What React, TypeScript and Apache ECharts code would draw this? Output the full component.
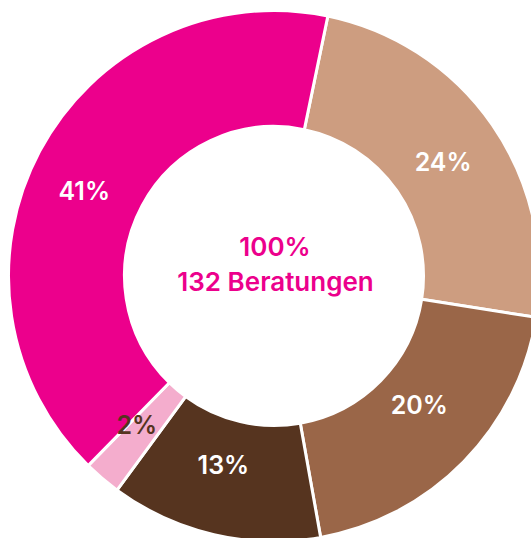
import React, { useEffect, useRef } from "react";
import * as echarts from "echarts";

const categories = ["A", "B", "C", "D", "E"];
const counts = [32, 26, 17, 3, 54];
const percentLabels = ["24%", "20%", "13%", "2%", "41%"];
const colors = ["#CD9D80", "#9A6648", "#56341F", "#F4ADCD", "#EC008C"];
const labelColors = ["#FFFFFF", "#FFFFFF", "#FFFFFF", "#56341F", "#FFFFFF"];
const labelOffsets = [[-4, 6], [-5, -18], [-3, -16], [-1, -11], [-4, 14]];
const centerLines = ["100%", "132 Beratungen"];

export default function App() {
  const ref = useRef<HTMLDivElement>(null);
  useEffect(() => {
    if (!ref.current) return;
    const chart = echarts.init(ref.current, null, { renderer: "svg" });
    const font = "Inter, Lato, 'Noto Sans', sans-serif";
    chart.setOption({
      animation: false,
      backgroundColor: "#ffffff",
      series: [
        {
          type: "pie",
          center: [274, 276],
          radius: [149.5, 265.5],
          startAngle: 78.3,
          clockwise: true,
          avoidLabelOverlap: false,
          itemStyle: { borderColor: "#ffffff", borderWidth: 3 },
          label: {
            show: true,
            position: "inside",
            fontFamily: font,
            fontSize: 25,
            fontWeight: 600,
          },
          labelLine: { show: false },
          emphasis: { disabled: true },
          data: categories.map((c, i) => ({
            name: c,
            value: counts[i],
            itemStyle: { color: colors[i] },
            label: {
              formatter: percentLabels[i],
              color: labelColors[i],
              offset: labelOffsets[i],
            },
          })),
        },
      ],
      graphic: [
        {
          type: "text",
          x: 275,
          y: 246,
          style: {
            text: centerLines[0],
            fill: "#EC008C",
            font: `600 26px ${font}`,
            align: "center",
            verticalAlign: "middle",
          },
        },
        {
          type: "text",
          x: 275.5,
          y: 281,
          style: {
            text: centerLines[1],
            fill: "#EC008C",
            font: `600 26px ${font}`,
            align: "center",
            verticalAlign: "middle",
          },
        },
      ],
    });
    return () => chart.dispose();
  }, []);
  return (
    <div
      ref={ref}
      style={{ position: "fixed", left: 0, top: 0, width: 531, height: 538 }}
    />
  );
}
